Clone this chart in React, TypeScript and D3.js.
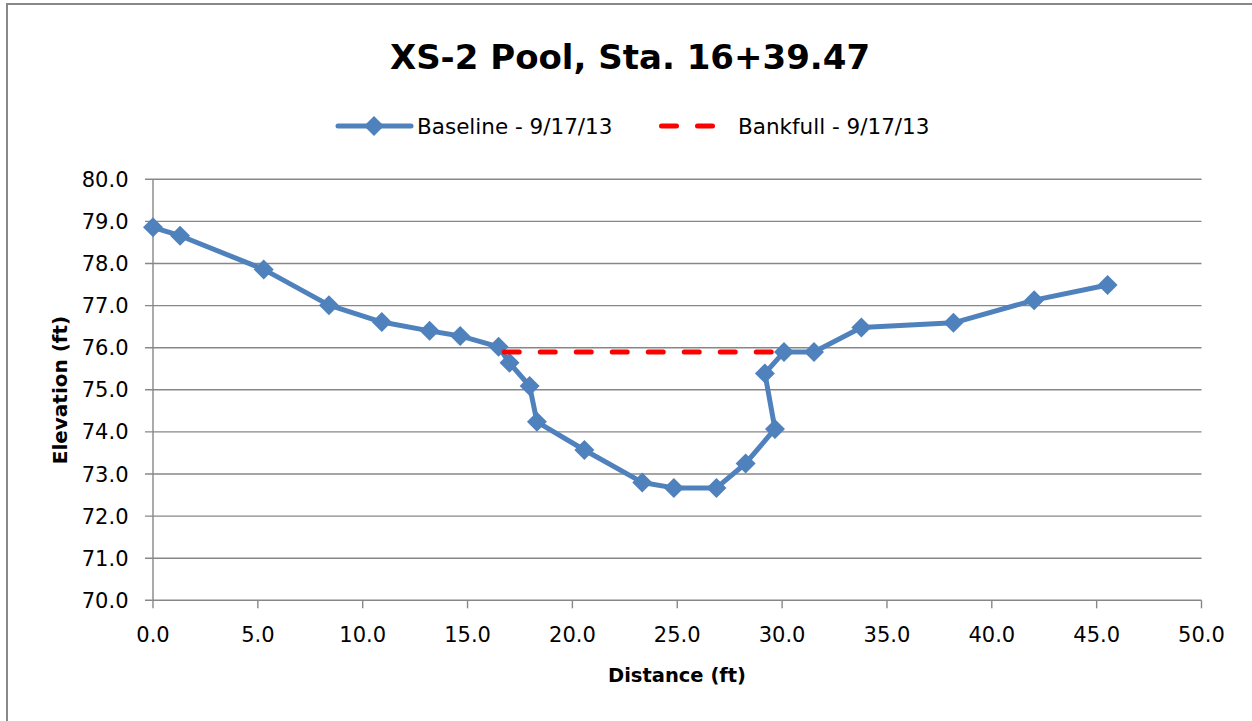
import React from "react";
import * as d3 from "d3";

// Cross-section survey
const distance = [0, 1.29, 5.28, 8.39, 10.91, 13.19, 14.65, 16.48, 17.0, 17.96, 18.31, 20.57, 23.33, 24.84, 26.87, 28.26, 29.66, 29.18, 30.09, 31.52, 33.78, 38.17, 42.02, 45.52];
const elevation = [78.86, 78.66, 77.86, 77.01, 76.61, 76.4, 76.28, 76.02, 75.64, 75.09, 74.24, 73.57, 72.8, 72.67, 72.67, 73.25, 74.07, 75.39, 75.9, 75.9, 76.48, 76.59, 77.13, 77.49];

const bankfullDistance = [16.75, 30.0];
const bankfullElevation = [75.9, 75.9];

const xTicks = [0, 5, 10, 15, 20, 25, 30, 35, 40, 45, 50];
const yTicks = [70, 71, 72, 73, 74, 75, 76, 77, 78, 79, 80];

const seriesNames = ["Baseline - 9/17/13", "Bankfull - 9/17/13"];
const title = "XS-2 Pool, Sta. 16+39.47";

const W = 1252;
const H = 721;
const FONT = "'DejaVu Sans', sans-serif";
const BLUE = "#4f81bd";
const RED = "#ff0000";
const GRID = "#878787";

const diamond = (h: number) => `M0,${-h}L${h},0L0,${h}L${-h},0Z`;

const App: React.FC = () => {
    const x = d3.scaleLinear().domain([0, 50]).range([153, 1201.5]);
    const y = d3.scaleLinear().domain([70, 80]).range([600.3, 179.3]);

    const baseline = distance.map((d, i) => [d, elevation[i]] as [number, number]);
    const bankfull = bankfullDistance.map((d, i) => [d, bankfullElevation[i]] as [number, number]);

    const line = d3.line<[number, number]>()
        .x(d => x(d[0]))
        .y(d => y(d[1]));

    const [x0, x1] = x.range();

    return (
        <svg width={W} height={H} style={{ position: "absolute", left: 0, top: 0, background: "#fff" }} fontFamily={FONT}>
            {/* chart area border */}
            <rect x={7} y={4} width={W + 20} height={H + 20} fill="#fff" stroke="#888" strokeWidth={2} />

            <text x={630} y={69} textAnchor="middle" fontSize={34} fontWeight="bold" fill="#000">{title}</text>

            {/* legend */}
            <g>
                <line x1={338} x2={411} y1={126} y2={126} stroke={BLUE} strokeWidth={5} strokeLinecap="round" />
                <path d={diamond(10)} transform="translate(374,126)" fill={BLUE} />
                <text x={417} y={126} dy="0.36em" fontSize={21.5} fill="#000">{seriesNames[0]}</text>
                <line x1={661.5} x2={715} y1={126} y2={126} stroke={RED} strokeWidth={5} strokeLinecap="round" strokeDasharray="15,21" />
                <text x={738} y={126} dy="0.36em" fontSize={21.5} fill="#000">{seriesNames[1]}</text>
            </g>

            {/* horizontal gridlines with left tick marks */}
            {yTicks.map(t => (
                <line key={"g" + t} x1={145} x2={x1} y1={y(t)} y2={y(t)} stroke={GRID} strokeWidth={1.4} />
            ))}
            {/* y axis */}
            <line x1={x0} x2={x0} y1={y(80)} y2={y(70)} stroke={GRID} strokeWidth={1.4} />
            {/* x tick marks */}
            {xTicks.map(t => (
                <line key={"xt" + t} x1={x(t)} x2={x(t)} y1={y(70)} y2={y(70) + 8} stroke={GRID} strokeWidth={1.4} />
            ))}

            {yTicks.map(t => (
                <text key={"yl" + t} x={128.5} y={y(t)} dy="0.36em" textAnchor="end" fontSize={21} fill="#000">{t.toFixed(1)}</text>
            ))}
            {xTicks.map(t => (
                <text key={"xl" + t} x={x(t)} y={642} textAnchor="middle" fontSize={21} fill="#000">{t.toFixed(1)}</text>
            ))}

            <text x={677} y={682} textAnchor="middle" fontSize={19.5} fontWeight="bold" fill="#000">Distance (ft)</text>
            <text transform="translate(67,390) rotate(-90)" textAnchor="middle" fontSize={20} fontWeight="bold" fill="#000">Elevation (ft)</text>

            {/* series */}
            <path d={line(baseline) || ""} fill="none" stroke={BLUE} strokeWidth={5} strokeLinejoin="round" />
            {baseline.map((d, i) => (
                <path key={"m" + i} d={diamond(10)} transform={`translate(${x(d[0])},${y(d[1])})`} fill={BLUE} />
            ))}
            <path d={line(bankfull) || ""} fill="none" stroke={RED} strokeWidth={5} strokeLinecap="round" strokeDasharray="15,21" />
        </svg>
    );
};

export default App;
